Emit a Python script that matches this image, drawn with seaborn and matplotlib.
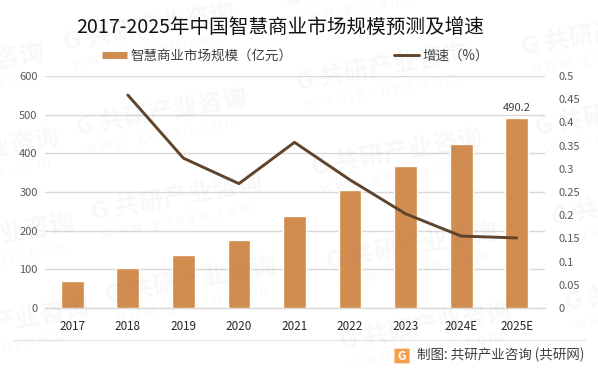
import numpy as np
import pandas as pd
import seaborn as sns
import matplotlib.pyplot as plt
from matplotlib.patches import FancyBboxPatch
from matplotlib.lines import Line2D

anos = ['2017', '2018', '2019', '2020', '2021', '2022', '2023', '2024E', '2025E']
mercado = [70, 103, 137, 176, 238, 305, 367, 424, 490.2]
# first year has no growth value
crescimento = [np.nan, 0.459, 0.323, 0.268, 0.357, 0.276, 0.203, 0.155, 0.151]
ticks_dir = ['0', '0.05', '0.1', '0.15', '0.2', '0.25', '0.3', '0.35', '0.4', '0.45', '0.5']

nome_barra = '智慧商业市场规模（亿元）'
nome_linha = '增速（%）'
titulo = '2017-2025年中国智慧商业市场规模预测及增速'
rodape = '制图: 共研产业咨询 (共研网)'

cor_barra = '#D18C4F'
cor_linha = '#5F432B'
cor_grade = '#D9D9D9'
cor_tick = '#595959'

sns.set_theme(style='white')
plt.rcParams['font.family'] = ['Noto Sans CJK SC', 'DejaVu Sans']

W, H = 598, 372
df = pd.DataFrame({'ano': anos, 'mercado': mercado, 'crescimento': crescimento})
df['pos'] = df.index

fig = plt.figure(figsize=(W / 100, H / 100), dpi=100)
ax = fig.add_axes([44.5 / W, 1 - 308 / H, 500 / W, 232 / H])

sns.barplot(data=df, x='ano', y='mercado', color=cor_barra, saturation=1, width=0.41, ax=ax, zorder=3)
ax.set_xlim(-0.5, 8.5)
ax.set_ylim(0, 600)
ax.set_xlabel('')
ax.set_ylabel('')
ax.set_yticks(range(0, 601, 100))
ax.grid(axis='y', color=cor_grade, lw=1)
ax.set_axisbelow(True)
ax.tick_params(axis='y', length=0, pad=5, labelsize=8, labelcolor=cor_tick)
ax.tick_params(axis='x', length=0, pad=9, labelsize=8.4, labelcolor='#262626')
sns.despine(ax=ax, left=True, right=True, top=True, bottom=False)
ax.spines['bottom'].set_color(cor_grade)
ax.spines['bottom'].set_linewidth(1)

ax.text(8, mercado[-1] + 14, '490.2', ha='center', va='bottom', fontsize=8, color='#404040', zorder=5)

ax2 = ax.twinx()
ax2.set_zorder(ax.get_zorder() + 1)
sns.lineplot(data=df.dropna(), x='pos', y='crescimento', color=cor_linha, lw=2.1, ax=ax2, legend=False,
             solid_capstyle='round', solid_joinstyle='round')
ax2.set_xlim(-0.5, 8.5)
ax2.set_ylim(0, 0.5)
ax2.set_ylabel('')
ax2.set_yticks(np.arange(len(ticks_dir)) * 0.05, ticks_dir)
ax2.tick_params(axis='y', length=0, pad=10, labelsize=8, labelcolor=cor_tick)
for s in ax2.spines.values():
    s.set_visible(False)

# legend, placed by hand so that it spreads across the top
fig.add_artist(Line2D([102 / W, 127 / W], [1 - 55 / H] * 2, color=cor_barra, lw=5, solid_capstyle='butt'))
fig.text(130 / W, 1 - 56 / H, nome_barra, fontsize=9.7, color='#404040', va='center')
fig.add_artist(Line2D([394 / W, 419 / W], [1 - 55 / H] * 2, color=cor_linha, lw=2.1, solid_capstyle='round'))
fig.text(422 / W, 1 - 56 / H, nome_linha, fontsize=9.7, color='#404040', va='center')

fig.text(280.5 / W, 1 - 27 / H, titulo, fontsize=14.1, color='#111111', ha='center', va='center')

# footer
fig.add_artist(Line2D([13 / W, 585 / W], [1 - 340 / H] * 2, color='#E6E6E6', lw=1))
fig.text(417 / W, 1 - 355 / H, rodape, fontsize=9.75, color='#404040', va='center')
fig.add_artist(FancyBboxPatch((395 / W, 1 - 363 / H), 14 / W, 14 / H, boxstyle='round,pad=0.001',
                              transform=fig.transFigure, fc='#F5A04E', ec='none'))
fig.text(402 / W, 1 - 356 / H, 'G', fontsize=8.5, fontweight='bold', color='white', ha='center', va='center')

# watermark
marcas = [(65, 50), (78, 135), (93, 220), (107, 303),
          (-125, 90), (-110, 175), (-95, 260), (-80, 345),
          (285, 5), (298, 90), (313, 175), (328, 269), (342, 349),
          (523, 55), (537, 135), (553, 225), (567, 310)]
for mx, my in marcas:
    fig.text(mx / W, 1 - my / H, 'G 共研产业咨询', fontsize=18, fontweight='bold', color='#808080',
             alpha=0.055, rotation=10, rotation_mode='anchor', va='baseline')
    fig.text((mx + 8) / W, 1 - (my + 18) / H, 'w w w . g o n y n . c o m', fontsize=10.5, color='#808080',
             alpha=0.055, rotation=10, rotation_mode='anchor', va='baseline')

fig.savefig('out.png', dpi=100)
